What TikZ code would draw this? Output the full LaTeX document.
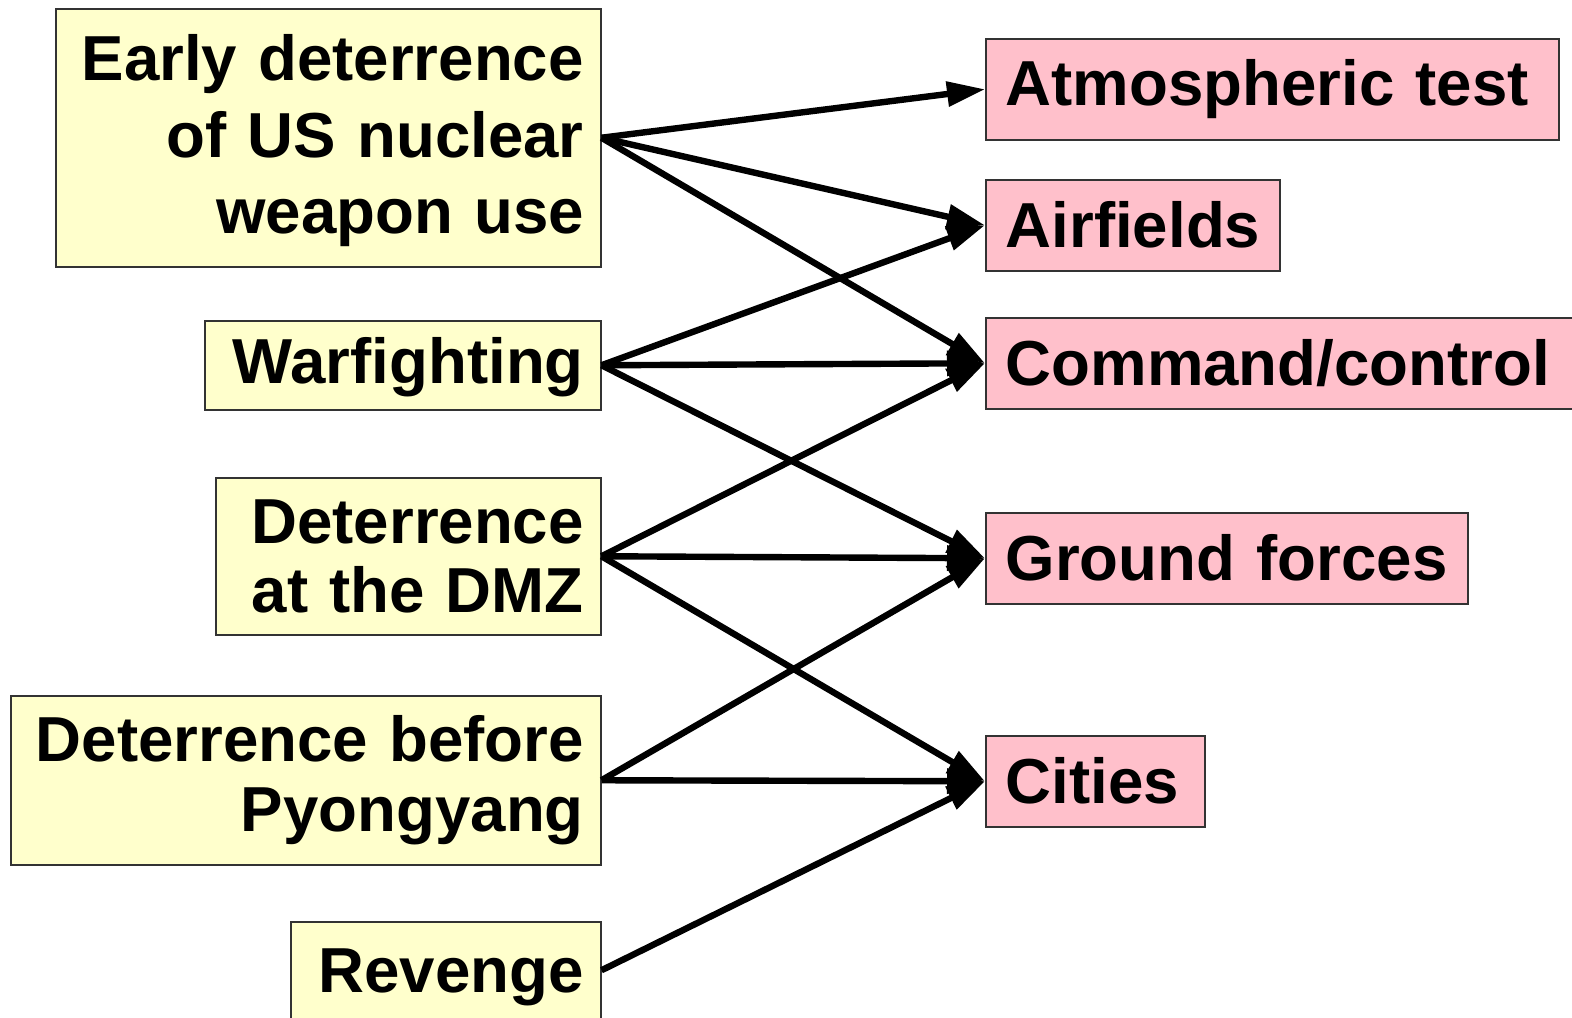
\documentclass[tikz,border=0pt]{standalone}
\usepackage{fontspec}
\setmainfont{Liberation Sans}
\usetikzlibrary{arrows.meta}
\definecolor{yel}{HTML}{FFFFCC}
\definecolor{pnk}{HTML}{FFC0CB}
\begin{document}
\begin{tikzpicture}[x=0.5pt,y=-0.5pt,
 box/.style={draw=black!80, line width=0.75pt, inner ysep=0pt, anchor=north west},
 fnt/.style={font=\bfseries\fontsize{31.8pt}{#1}\selectfont},
 lbox/.style={box, fill=yel, align=right, inner xsep=8.5pt},
 rbox/.style={box, fill=pnk, align=left, inner xsep=10pt, fnt=38pt, minimum height=45.5pt},
 conn/.style={line width=3.2pt, -{Triangle[length=19pt,width=12pt]}}]
\useasboundingbox (0,0) rectangle (1572,1017);
% left boxes
\node[lbox, fnt=38.3pt, text width=255.5pt, text height=26.2pt, minimum height=129pt] (e) at (55,8) {Early deterrence\\of US nuclear\\weapon use};
\node[lbox, fnt=38pt, text width=181pt, text depth=4.7pt, minimum height=44.5pt] (w) at (204,320) {Warfighting};
\node[lbox, fnt=34.5pt, text width=175.5pt, minimum height=78.5pt] (d) at (215,477) {Deterrence\\at the DMZ};
\node[lbox, fnt=35pt, text width=278pt, minimum height=84.5pt] (p) at (10,695) {Deterrence before\\Pyongyang};
\node[lbox, fnt=38pt, text width=138pt, text depth=-5.4pt, minimum height=48.5pt] (r) at (290,921) {Revenge};
% right boxes
\node[rbox, text width=266.5pt, minimum height=50.5pt] (a) at (985,38) {Atmospheric test};
\node[rbox, text width=127pt] (af) at (985,179) {Airfields};
\node[rbox, text width=280pt] (c) at (985,317) {Command/control};
\node[rbox, text width=221pt] (g) at (985,512) {Ground forces};
\node[rbox, text width=89.5pt] (ci) at (985,735) {Cities};
% connectors
\draw[conn] (e.east) -- (a.west);
\draw[conn] (e.east) -- (af.west);
\draw[conn] (e.east) -- (c.west);
\draw[conn] (w.east) -- (af.west);
\draw[conn] (w.east) -- (c.west);
\draw[conn] (w.east) -- (g.west);
\draw[conn] (d.east) -- (c.west);
\draw[conn] (d.east) -- (g.west);
\draw[conn] (d.east) -- (ci.west);
\draw[conn] (p.east) -- (g.west);
\draw[conn] (p.east) -- (ci.west);
\draw[conn] (r.east) -- (ci.west);
\end{tikzpicture}
\end{document}
